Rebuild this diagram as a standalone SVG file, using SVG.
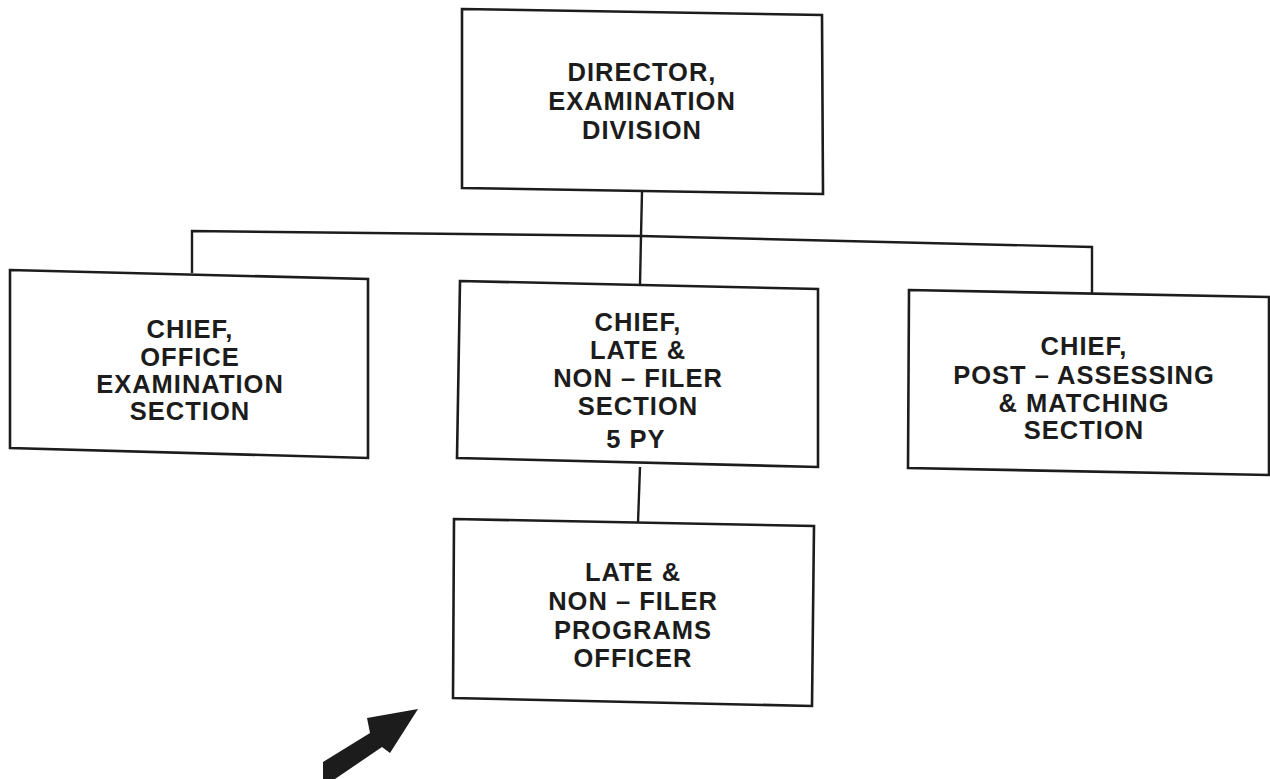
<svg xmlns="http://www.w3.org/2000/svg" width="1270" height="779" viewBox="0 0 1270 779">
  <style>
    .box { fill: #ffffff; stroke: #1c1c1c; stroke-width: 2.6; stroke-linejoin: miter; }
    .wire { fill: none; stroke: #1c1c1c; stroke-width: 2.4; }
    .lbl { font-family: "Liberation Sans", Arial, sans-serif; font-weight: bold; font-size: 25.5px; letter-spacing: 1px; fill: #1c1c1c; text-anchor: middle; }
  </style>
  <rect x="0" y="0" width="1270" height="779" fill="#ffffff"/>

  <!-- reporting lines -->
  <g id="connectors">
    <polyline class="wire" points="642,192 641,236"/>
    <polyline class="wire" points="192,273 192,231 641,236 1092,247 1092,294"/>
    <polyline class="wire" points="641,236 640,285"/>
    <polyline class="wire" points="640,467 638,523"/>
  </g>

  <g id="director">
    <polygon class="box" points="462,9 822,15 823,194 462,188"/>
    <text class="lbl" x="642" y="81">DIRECTOR,</text>
    <text class="lbl" x="642" y="110">EXAMINATION</text>
    <text class="lbl" x="642" y="139">DIVISION</text>
  </g>

  <g id="office-exam">
    <polygon class="box" points="10,270 368,279 368,458 10,448"/>
    <text class="lbl" x="190" y="338">CHIEF,</text>
    <text class="lbl" x="190" y="366">OFFICE</text>
    <text class="lbl" x="190" y="393">EXAMINATION</text>
    <text class="lbl" x="190" y="420">SECTION</text>
  </g>

  <g id="late-nonfiler">
    <polygon class="box" points="460,281 818,289 818,467 457,458"/>
    <text class="lbl" x="638" y="331">CHIEF,</text>
    <text class="lbl" x="638" y="359">LATE &amp;</text>
    <text class="lbl" x="638" y="387">NON – FILER</text>
    <text class="lbl" x="638" y="415">SECTION</text>
    <text class="lbl" x="636" y="448">5 PY</text>
  </g>

  <g id="post-assessing">
    <polygon class="box" points="909,290 1269,297 1269,475 908,468"/>
    <text class="lbl" x="1084" y="355">CHIEF,</text>
    <text class="lbl" x="1084" y="384">POST – ASSESSING</text>
    <text class="lbl" x="1084" y="412">&amp; MATCHING</text>
    <text class="lbl" x="1084" y="439">SECTION</text>
  </g>

  <g id="programs-officer">
    <polygon class="box" points="454,519 814,526 812,706 453,698"/>
    <text class="lbl" x="633" y="581">LATE &amp;</text>
    <text class="lbl" x="633" y="610">NON – FILER</text>
    <text class="lbl" x="633" y="639">PROGRAMS</text>
    <text class="lbl" x="633" y="667">OFFICER</text>
  </g>

  <!-- pointer arrow -->
  <polygon fill="#1c1c1c" points="418,709 390,753 382,747 335,779 323,779 323,762 370,733 367,718"/>
</svg>
